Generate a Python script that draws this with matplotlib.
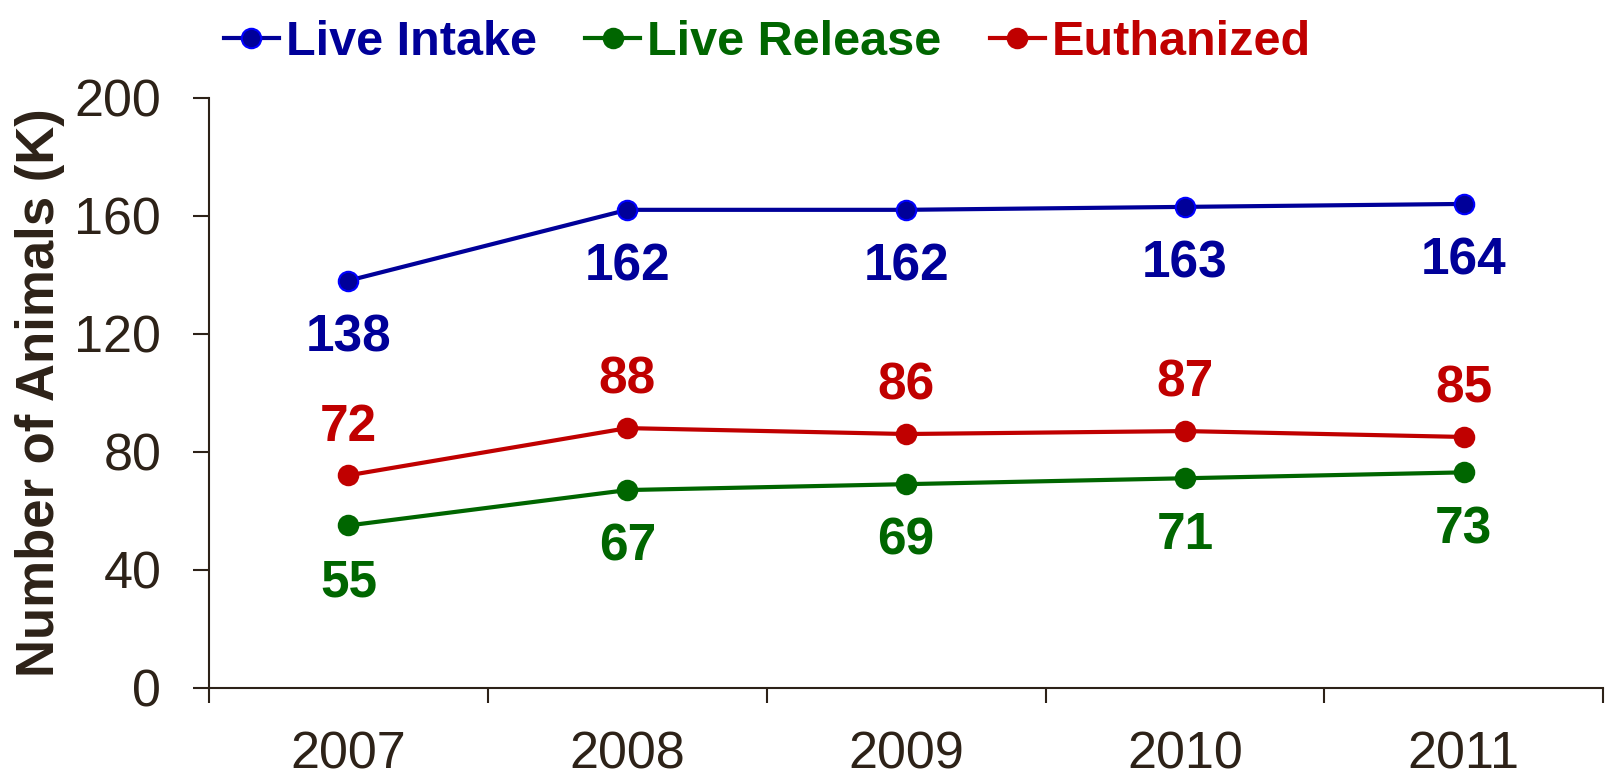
import matplotlib
matplotlib.use("Agg")
import matplotlib.pyplot as plt

# --- data ---
years = ["2007", "2008", "2009", "2010", "2011"]
live_intake = [138, 162, 162, 163, 164]
live_release = [55, 67, 69, 71, 73]
euthanized = [72, 88, 86, 87, 85]
y_ticks = [0, 40, 80, 120, 160, 200]

BLUE = "#000099"
GREEN = "#006600"
RED = "#C00000"
DARK = "#2D2218"

plt.rcParams["font.family"] = ["Liberation Sans", "DejaVu Sans"]

fig = plt.figure(figsize=(16.12, 7.72), dpi=100)
ax = fig.add_axes([0.1297, 0.1092, 0.8648, 0.7642])

x = list(range(len(years)))
# name, values, line colour, marker face, marker edge, label offset (pt, baseline)
series = [
    ("Live Intake", live_intake, BLUE, "#000099", "#0000FF", -51),
    ("Live Release", live_release, GREEN, GREEN, GREEN, -51),
    ("Euthanized", euthanized, RED, RED, RED, 25),
]
handles = []
for name, vals, col, mfc, mec, off in series:
    h, = ax.plot(x, vals, color=col, lw=3, marker="o", ms=14,
                 mfc=mfc, mec=mec, mew=1.5, label=name)
    handles.append(h)
    for xi, v in zip(x, vals):
        ax.annotate(str(v), (xi, v), xytext=(0, off), textcoords="offset points",
                    ha="center", va="baseline", fontsize=37, fontweight="bold",
                    color=col)

ax.set_xlim(-0.5, len(years) - 0.5)
ax.set_ylim(0, 200)
ax.set_yticks(y_ticks)
ax.set_xticks(x)
ax.set_xticklabels(years)
ax.set_xticks([i - 0.5 for i in range(len(years) + 1)], minor=True)

for s in ["top", "right"]:
    ax.spines[s].set_visible(False)
for s in ["left", "bottom"]:
    ax.spines[s].set_color(DARK)
    ax.spines[s].set_linewidth(1.5)

ax.tick_params(axis="x", which="major", length=0, pad=31, labelsize=37.5, labelcolor=DARK)
ax.tick_params(axis="x", which="minor", length=10.8, width=1.5, color=DARK)
ax.tick_params(axis="y", length=11.5, width=1.5, color=DARK, pad=23,
               labelsize=37.5, labelcolor=DARK)

ax.set_ylabel("Number of Animals (K)", fontsize=38, fontweight="bold",
              color=DARK, va="center")
ax.yaxis.set_label_coords(-0.1212, 0.5)

leg = fig.legend(handles=handles, loc="center", bbox_to_anchor=(0.476, 0.945),
                 ncol=3, frameon=False, handlelength=1.13, handletextpad=0.14,
                 columnspacing=1.0, prop={"weight": "bold", "size": 35})
for t, (_, _, col, _, _, _) in zip(leg.get_texts(), series):
    t.set_color(col)

fig.savefig("out.png", dpi=100)
